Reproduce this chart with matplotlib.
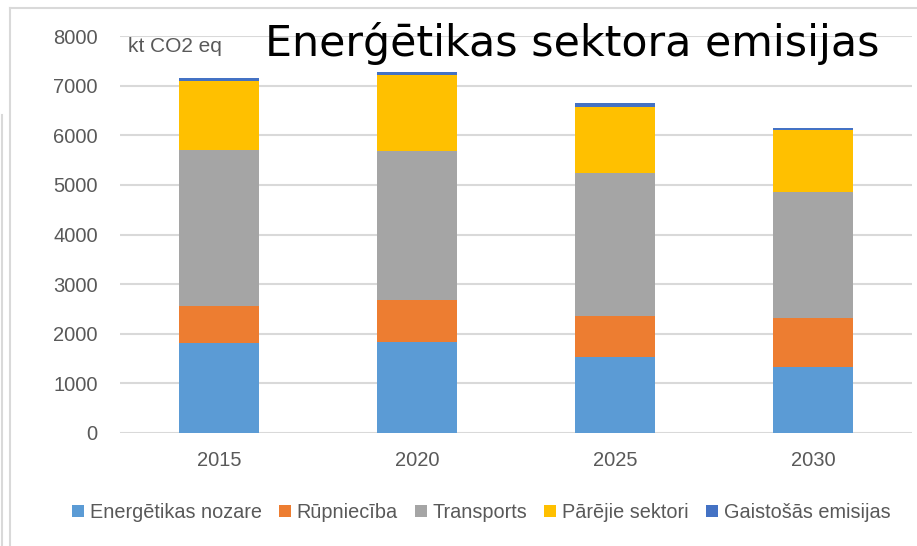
import matplotlib.pyplot as plt
import numpy as np
from matplotlib.lines import Line2D

years = ['2015', '2020', '2025', '2030']
energetika = [1820, 1830, 1530, 1340]
rupnieciba = [740, 850, 830, 970]
transports = [3145, 3005, 2880, 2545]
parejie = [1390, 1520, 1335, 1250]
gaistosas = [60, 70, 75, 35]

nosaukumi = ['Energētikas nozare', 'Rūpniecība', 'Transports',
             'Pārējie sektori', 'Gaistošās emisijas']
krasas = ['#5B9BD5', '#ED7D31', '#A5A5A5', '#FFC000', '#4472C4']
serijas = [energetika, rupnieciba, transports, parejie, gaistosas]

W, H = 917, 546
fig = plt.figure(figsize=(W / 100, H / 100), dpi=100)
ax = fig.add_axes([120 / W, 1 - 433 / H, 792 / W, 397 / H])

x = np.arange(len(years))
apaksa = np.zeros(len(years))
for vert, nos, kr in zip(serijas, nosaukumi, krasas):
    ax.bar(x, vert, 0.4, bottom=apaksa, color=kr, label=nos, zorder=3)
    apaksa += np.array(vert)

ax.set_xlim(-0.5, 3.5)
ax.set_ylim(0, 8000)
ax.set_yticks(range(0, 8001, 1000))
ax.set_xticks(x)
ax.set_xticklabels(years)
ax.yaxis.grid(True, color='#D9D9D9', lw=1.5, zorder=0)
for s in ax.spines.values():
    s.set_visible(False)
ax.tick_params(length=0, colors='#595959', labelsize=14.5, pad=16)
ax.tick_params(axis='x', pad=13)
for t in ax.get_xticklabels() + ax.get_yticklabels():
    t.set_fontfamily('Liberation Sans')

leg = ax.legend(loc='center', bbox_to_anchor=(0.456, -0.2), ncol=5,
                frameon=False, handlelength=0.6, handleheight=0.6,
                handletextpad=0.3, columnspacing=0.85,
                prop={'family': 'Liberation Sans', 'size': 14.3})
for t in leg.get_texts():
    t.set_color('#595959')

fig.text(265 / W, 1 - 56 / H, 'Enerǵētikas sektora emisijas', fontsize=30.8,
         color='black', va='baseline', family='DejaVu Sans')
fig.text(128 / W, 1 - 47 / H, 'kt CO2 eq', fontsize=15, color='#595959',
         va='center', family='Liberation Sans')

# ramja liinijas
fig.add_artist(Line2D([10 / W, 1], [1 - 8 / H, 1 - 8 / H], color='#D9D9D9', lw=1.5))
fig.add_artist(Line2D([10 / W, 10 / W], [0, 1 - 8 / H], color='#D9D9D9', lw=1.5))
fig.add_artist(Line2D([2 / W, 2 / W], [0, 1 - 115 / H], color='#D9D9D9', lw=1.5))

fig.savefig('out.png', dpi=100)
